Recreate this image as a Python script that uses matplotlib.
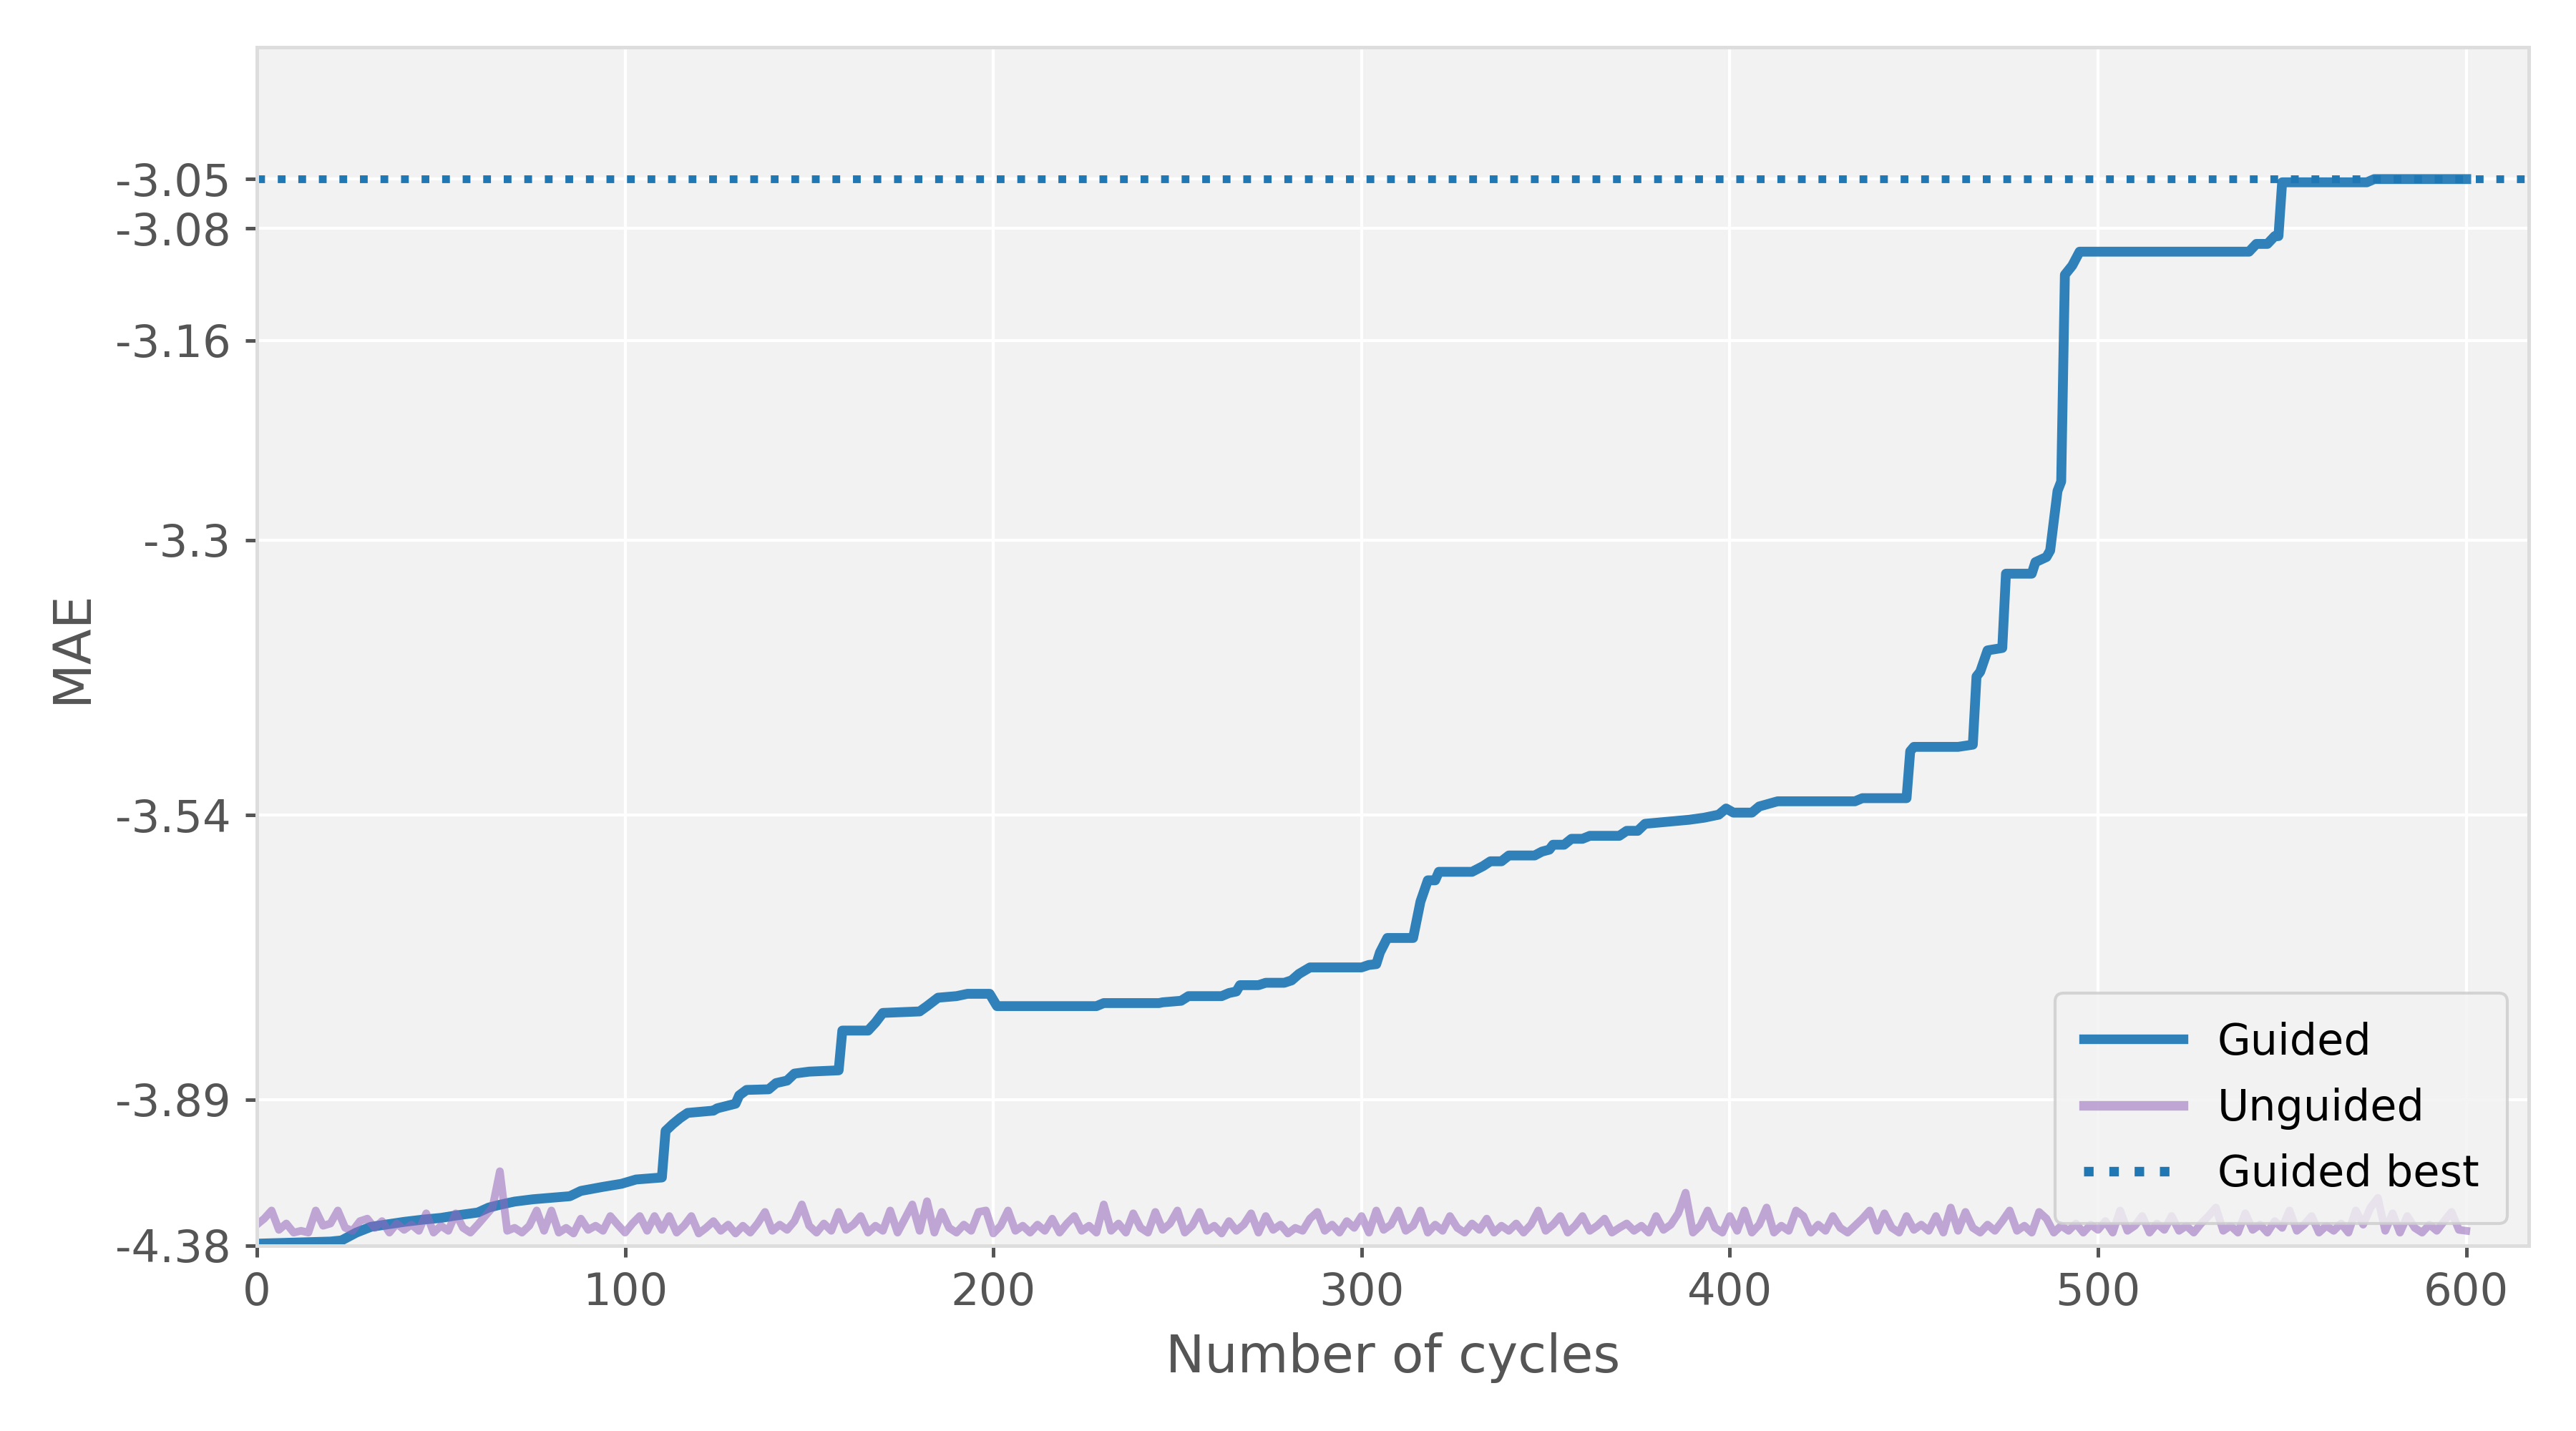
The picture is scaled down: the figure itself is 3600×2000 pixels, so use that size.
import matplotlib
matplotlib.use('Agg')
import matplotlib.pyplot as plt
import numpy as np

# guided run: best-so-far MAE per cycle (breakpoints)
guided_cycles = [0, 10, 20, 23, 27, 31, 35, 40, 45, 50, 54, 60, 63, 66, 70, 75, 85, 88, 94, 99,
                 103, 110, 111, 113, 115, 117, 124, 125, 130, 131, 133, 139, 141, 144, 146, 150,
                 158, 159, 166, 168, 170, 180, 182, 185, 190, 193, 199, 201, 228, 230, 245, 246,
                 251, 253, 262, 264, 266, 267, 272, 274, 279, 281, 283, 286, 300, 302, 304, 305,
                 307, 314, 316, 318, 320, 321, 330, 333, 335, 338, 340, 347, 349, 351, 352, 355,
                 357, 360, 362, 370, 372, 375, 377, 389, 393, 397, 399, 401, 406, 408, 411, 413,
                 434, 436, 448, 449, 450, 462, 466, 467, 468, 470, 474, 475, 482, 483, 486, 487,
                 489, 490, 491, 493, 495, 541, 543, 546, 548, 549, 550, 573, 575, 600]
guided_mae = [-4.328, -4.313, -4.301, -4.290, -4.235, -4.205, -4.195, -4.183, -4.174, -4.167,
              -4.158, -4.147, -4.130, -4.121, -4.111, -4.104, -4.095, -4.080, -4.069, -4.061,
              -4.050, -4.045, -3.945, -3.932, -3.921, -3.912, -3.908, -3.904, -3.896, -3.882,
              -3.873, -3.872, -3.862, -3.858, -3.847, -3.844, -3.842, -3.784, -3.784, -3.773,
              -3.760, -3.758, -3.751, -3.740, -3.738, -3.735, -3.735, -3.751, -3.751, -3.747,
              -3.747, -3.746, -3.744, -3.738, -3.738, -3.734, -3.732, -3.724, -3.724, -3.721,
              -3.721, -3.718, -3.710, -3.702, -3.702, -3.699, -3.698, -3.684, -3.667, -3.667,
              -3.626, -3.603, -3.603, -3.594, -3.594, -3.588, -3.583, -3.583, -3.577, -3.577,
              -3.573, -3.571, -3.566, -3.566, -3.560, -3.560, -3.557, -3.557, -3.552, -3.552,
              -3.545, -3.541, -3.539, -3.536, -3.530, -3.534, -3.534, -3.528, -3.525, -3.523,
              -3.523, -3.520, -3.520, -3.476, -3.472, -3.472, -3.470, -3.410, -3.406, -3.388,
              -3.386, -3.326, -3.326, -3.317, -3.313, -3.308, -3.263, -3.256, -3.113, -3.107,
              -3.098, -3.098, -3.093, -3.093, -3.088, -3.088, -3.054, -3.054, -3.052, -3.052]

# unguided run, every second cycle
unguided_cycles = list(range(0, 601, 2))
unguided_mae = [
    -4.195, -4.17, -4.14, -4.22, -4.19, -4.235, -4.225, -4.235, -4.14, -4.20,
    -4.19, -4.14, -4.21, -4.225, -4.18, -4.17, -4.21, -4.18, -4.235, -4.19,
    -4.22, -4.195, -4.225, -4.15, -4.235, -4.20, -4.225, -4.15, -4.21, -4.235,
    -4.195, -4.16, -4.13, -4.03, -4.225, -4.21, -4.235, -4.20, -4.14, -4.225,
    -4.14, -4.235, -4.21, -4.24, -4.17, -4.22, -4.20, -4.225, -4.16, -4.195,
    -4.235, -4.19, -4.16, -4.225, -4.16, -4.22, -4.16, -4.235, -4.20, -4.16,
    -4.24, -4.21, -4.18, -4.225, -4.195, -4.24, -4.20, -4.235, -4.19, -4.145,
    -4.225, -4.195, -4.22, -4.18, -4.12, -4.20, -4.235, -4.19, -4.225, -4.145,
    -4.22, -4.195, -4.16, -4.235, -4.20, -4.225, -4.14, -4.235, -4.17, -4.12,
    -4.225, -4.11, -4.235, -4.145, -4.21, -4.235, -4.195, -4.225, -4.145, -4.14,
    -4.24, -4.20, -4.14, -4.225, -4.20, -4.235, -4.195, -4.225, -4.17, -4.235,
    -4.19, -4.16, -4.225, -4.20, -4.235, -4.12, -4.225, -4.19, -4.235, -4.15,
    -4.21, -4.235, -4.145, -4.22, -4.19, -4.14, -4.235, -4.20, -4.145, -4.225,
    -4.20, -4.24, -4.18, -4.225, -4.195, -4.15, -4.235, -4.16, -4.22, -4.195,
    -4.24, -4.21, -4.225, -4.17, -4.145, -4.225, -4.195, -4.235, -4.18, -4.21,
    -4.16, -4.235, -4.14, -4.22, -4.195, -4.14, -4.225, -4.20, -4.14, -4.235,
    -4.195, -4.225, -4.16, -4.21, -4.235, -4.19, -4.22, -4.17, -4.235, -4.20,
    -4.225, -4.19, -4.235, -4.195, -4.14, -4.225, -4.195, -4.16, -4.235, -4.20,
    -4.16, -4.225, -4.20, -4.17, -4.235, -4.21, -4.19, -4.225, -4.20, -4.235,
    -4.16, -4.22, -4.195, -4.15, -4.085, -4.235, -4.20, -4.14, -4.21, -4.235,
    -4.16, -4.225, -4.14, -4.235, -4.195, -4.13, -4.235, -4.20, -4.225, -4.14,
    -4.16, -4.235, -4.195, -4.225, -4.16, -4.21, -4.235, -4.20, -4.17, -4.14,
    -4.225, -4.15, -4.21, -4.235, -4.16, -4.22, -4.195, -4.225, -4.16, -4.235,
    -4.13, -4.225, -4.145, -4.21, -4.235, -4.195, -4.225, -4.18, -4.14, -4.225,
    -4.20, -4.235, -4.145, -4.17, -4.235, -4.20, -4.225, -4.19, -4.235, -4.195,
    -4.22, -4.18, -4.235, -4.14, -4.225, -4.20, -4.16, -4.235, -4.19, -4.22,
    -4.16, -4.225, -4.20, -4.235, -4.19, -4.16, -4.13, -4.225, -4.20, -4.235,
    -4.15, -4.22, -4.195, -4.235, -4.18, -4.21, -4.14, -4.225, -4.195, -4.16,
    -4.235, -4.20, -4.225, -4.19, -4.235, -4.14, -4.195, -4.13, -4.10, -4.225,
    -4.15, -4.235, -4.16, -4.21, -4.235, -4.195, -4.225, -4.18, -4.145, -4.22,
    -4.225]

guided_best = -3.052

ytick_values = [-3.052, -3.0831, -3.1566, -3.30, -3.5363, -3.889, -4.38]
ytick_labels = ['-3.05', '-3.08', '-3.16', '-3.3', '-3.54', '-3.89', '-4.38']
xtick_values = [0, 100, 200, 300, 400, 500, 600]

MAE_FLOOR = -4.38   # y axis is quadratic in distance from the worst MAE


def forward(v):
    d = np.asarray(v, dtype=float) - MAE_FLOOR
    return np.sign(d) * d ** 2


def inverse(u):
    u = np.asarray(u, dtype=float)
    return np.sign(u) * np.sqrt(np.abs(u)) + MAE_FLOOR


fig = plt.figure(figsize=(12, 20 / 3), dpi=300)
ax = fig.add_axes([0.0997, 0.12975, 0.8820, 0.8371])
ax.set_facecolor('#f2f2f2')
for sp in ax.spines.values():
    sp.set_color('#dddddd')
    sp.set_linewidth(1.2)
ax.grid(True, color='white', linewidth=1.0)
ax.set_axisbelow(True)

ax.plot(guided_cycles, guided_mae, color='#1f77b4', alpha=0.92, lw=3.3, label='Guided')
ax.plot(unguided_cycles, unguided_mae, color='#9467bd', alpha=0.55, lw=2.6, label='Unguided')
ax.axhline(guided_best, color='#1f77b4', ls=':', lw=2.6, label='Guided best')

ax.set_yscale('function', functions=(forward, inverse))
ax.set_ylim(MAE_FLOOR, -2.9724)
ax.set_xlim(0, 617)
ax.set_yticks(ytick_values)
ax.set_yticklabels(ytick_labels)
ax.set_xticks(xtick_values)
ax.minorticks_off()

ax.tick_params(colors='#555555', labelsize=15, length=3.8, width=1.2, pad=5)
ax.set_xlabel('Number of cycles', fontsize=17.5, color='#555555', labelpad=6)
ax.set_ylabel('MAE', fontsize=17.5, color='#555555', labelpad=6)

leg = ax.legend(loc='lower right', fontsize=14.5, facecolor='#f2f2f2', edgecolor='#cccccc',
                framealpha=0.8, handlelength=2.3, borderpad=0.65, labelspacing=0.55)
for h in leg.legend_handles:
    h.set_linewidth(3.2)

fig.savefig('out.png', dpi=300)
